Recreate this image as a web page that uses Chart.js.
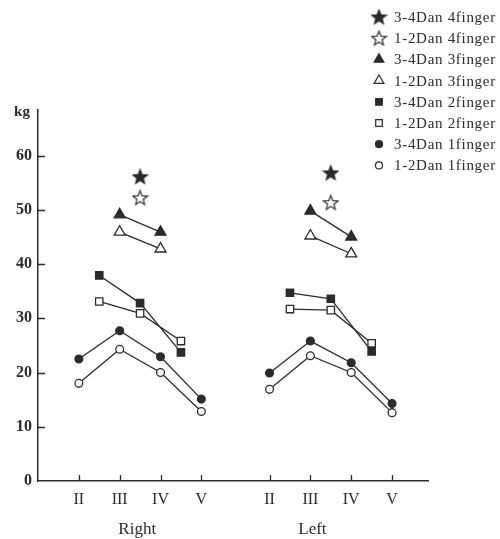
<!DOCTYPE html>
<html>
<head>
<meta charset="utf-8">
<script src="https://cdn.jsdelivr.net/npm/chart.js@4.4.1/dist/chart.umd.min.js"></script>
<style>
  html, body { margin: 0; padding: 0; background: #fff; }
</style>
</head>
<body>
<canvas id="grip" width="500" height="539"></canvas>
<script>
const fingerLabels = ['II', 'III', 'IV', 'V']
const sideLabels = ['Right', 'Left']
const sideStart = [1, 5.67]       // x of finger II on each hand
const sideLabelPos = [2.43, 6.72]
const yTicks = [0, 10, 20, 30, 40, 50, 60]

// offsets from finger II for each grip type
const offsets1 = [0, 1, 2, 3]
const offsets2 = [0.5, 1.5, 2.5]
const offsets3 = [1, 2]
const offsets4 = [1.5]

// grip strength in kg, [right hand, left hand]
const dan34_4finger = [[56.1], [56.8]]
const dan12_4finger = [[52.2], [51.3]]
const dan34_3finger = [[49.1, 45.9], [49.8, 45.0]]
const dan12_3finger = [[45.9, 42.8], [45.2, 41.9]]
const dan34_2finger = [[37.9, 32.8, 23.7], [34.7, 33.6, 23.9]]
const dan12_2finger = [[33.1, 30.9, 25.8], [31.7, 31.5, 25.4]]
const dan34_1finger = [[22.5, 27.7, 22.9, 15.1], [19.9, 25.8, 21.8, 14.3]]
const dan12_1finger = [[18.0, 24.3, 20.0, 12.8], [16.9, 23.1, 20.0, 12.6]]

const INK = '#2b2b2b'
const FONT = '"Liberation Serif", "Times New Roman", serif'

function points(values, offsets) {
    const pts = []
    values.forEach((side, s) => {
        side.forEach((v, i) => pts.push({ x: sideStart[s] + offsets[i], y: v }))
        if (s === 0) pts.push({ x: 5, y: null })
    })
    return pts
}

function starImage(filled) {
    const c = document.createElement('canvas')
    c.width = 17
    c.height = 17
    const g = c.getContext('2d')
    g.beginPath()
    for (let i = 0; i < 10; i++) {
        const r = i % 2 === 0 ? 7.6 : 3.3
        const a = -Math.PI / 2 + i * Math.PI / 5
        g.lineTo(8.5 + r * Math.cos(a), 9 + r * Math.sin(a))
    }
    g.closePath()
    g.fillStyle = filled ? INK : '#fff'
    g.fill()
    g.strokeStyle = INK
    g.lineWidth = 1.2
    g.stroke()
    return c
}

function series(label, values, offsets, style, radius, filled) {
    return {
        label,
        data: points(values, offsets),
        showLine: true,
        spanGaps: false,
        borderColor: INK,
        borderWidth: 1.3,
        pointStyle: style,
        pointRadius: radius,
        pointBorderWidth: 1.3,
        pointBorderColor: INK,
        pointBackgroundColor: filled ? INK : '#fff'
    }
}

const datasets = [
    series('3-4Dan 4finger', dan34_4finger, offsets4, starImage(true), 8, true),
    series('1-2Dan 4finger', dan12_4finger, offsets4, starImage(false), 8, false),
    series('3-4Dan 3finger', dan34_3finger, offsets3, 'triangle', 6.3, true),
    series('1-2Dan 3finger', dan12_3finger, offsets3, 'triangle', 6.3, false),
    series('3-4Dan 2finger', dan34_2finger, offsets2, 'rect', 5.2, true),
    series('1-2Dan 2finger', dan12_2finger, offsets2, 'rect', 5.2, false),
    series('3-4Dan 1finger', dan34_1finger, offsets1, 'circle', 3.9, true),
    series('1-2Dan 1finger', dan12_1finger, offsets1, 'circle', 3.9, false)
]

const xTickValues = []
sideStart.forEach(s => offsets1.forEach(o => xTickValues.push(s + o)))

// inward tick marks, hand names, kg unit and the legend
const extras = {
    id: 'extras',
    afterDraw(chart) {
        const ctx = chart.ctx
        const { x, y } = chart.scales
        const area = chart.chartArea
        ctx.save()
        ctx.strokeStyle = INK
        ctx.lineWidth = 1.3
        ctx.beginPath()
        yTicks.slice(1).forEach(v => {
            const py = Math.round(y.getPixelForValue(v)) + 0.5
            ctx.moveTo(area.left, py)
            ctx.lineTo(area.left + 7, py)
        })
        xTickValues.forEach(v => {
            const px = Math.round(x.getPixelForValue(v)) + 0.5
            ctx.moveTo(px, area.bottom)
            ctx.lineTo(px, area.bottom - 6)
        })
        ctx.stroke()

        ctx.fillStyle = INK
        ctx.textAlign = 'center'
        ctx.textBaseline = 'middle'
        ctx.font = '17px ' + FONT
        sideLabels.forEach((t, i) => ctx.fillText(t, x.getPixelForValue(sideLabelPos[i]), 530))

        ctx.font = 'bold 15px ' + FONT
        ctx.fillText('kg', 22, 112)

        ctx.textAlign = 'left'
        ctx.font = '15px ' + FONT
        ctx.letterSpacing = '0.7px'
        chart.data.datasets.forEach((ds, i) => {
            const ly = 17 + i * 21.2
            ctx.fillStyle = ds.pointBackgroundColor
            ctx.strokeStyle = INK
            ctx.lineWidth = 1.2
            Chart.helpers.drawPoint(ctx, {
                pointStyle: ds.pointStyle,
                radius: ds.pointRadius * 0.9,
                borderWidth: 1.2,
                rotation: 0
            }, 379, ly)
            ctx.fillStyle = INK
            ctx.fillText(ds.label, 394, ly + 1)
        })
        ctx.restore()
    }
}

new Chart(document.getElementById('grip').getContext('2d'), {
    type: 'scatter',
    data: { datasets },
    plugins: [extras],
    options: {
        responsive: false,
        animation: false,
        layout: { padding: { top: 110, right: 72, left: 0, bottom: 0 } },
        plugins: {
            legend: { display: false },
            tooltip: { enabled: false }
        },
        scales: {
            x: {
                type: 'linear',
                min: 0,
                max: 9.55,
                afterFit: scale => { scale.height = 58 },
                afterBuildTicks: scale => { scale.ticks = xTickValues.map(v => ({ value: v })) },
                ticks: {
                    color: INK,
                    padding: 9,
                    font: { family: FONT, size: 16 },
                    callback: (v, i) => fingerLabels[i % 4]
                },
                grid: { drawOnChartArea: false, drawTicks: false },
                border: { color: INK, width: 1.5 }
            },
            y: {
                min: 0,
                max: 68.4,
                afterFit: scale => { scale.width = 38 },
                afterBuildTicks: scale => { scale.ticks = yTicks.map(v => ({ value: v })) },
                ticks: {
                    color: INK,
                    padding: 6,
                    font: { family: FONT, size: 16, weight: 'bold' }
                },
                grid: { drawOnChartArea: false, drawTicks: false },
                border: { color: INK, width: 1.5 }
            }
        }
    }
})
</script>
</body>
</html>
